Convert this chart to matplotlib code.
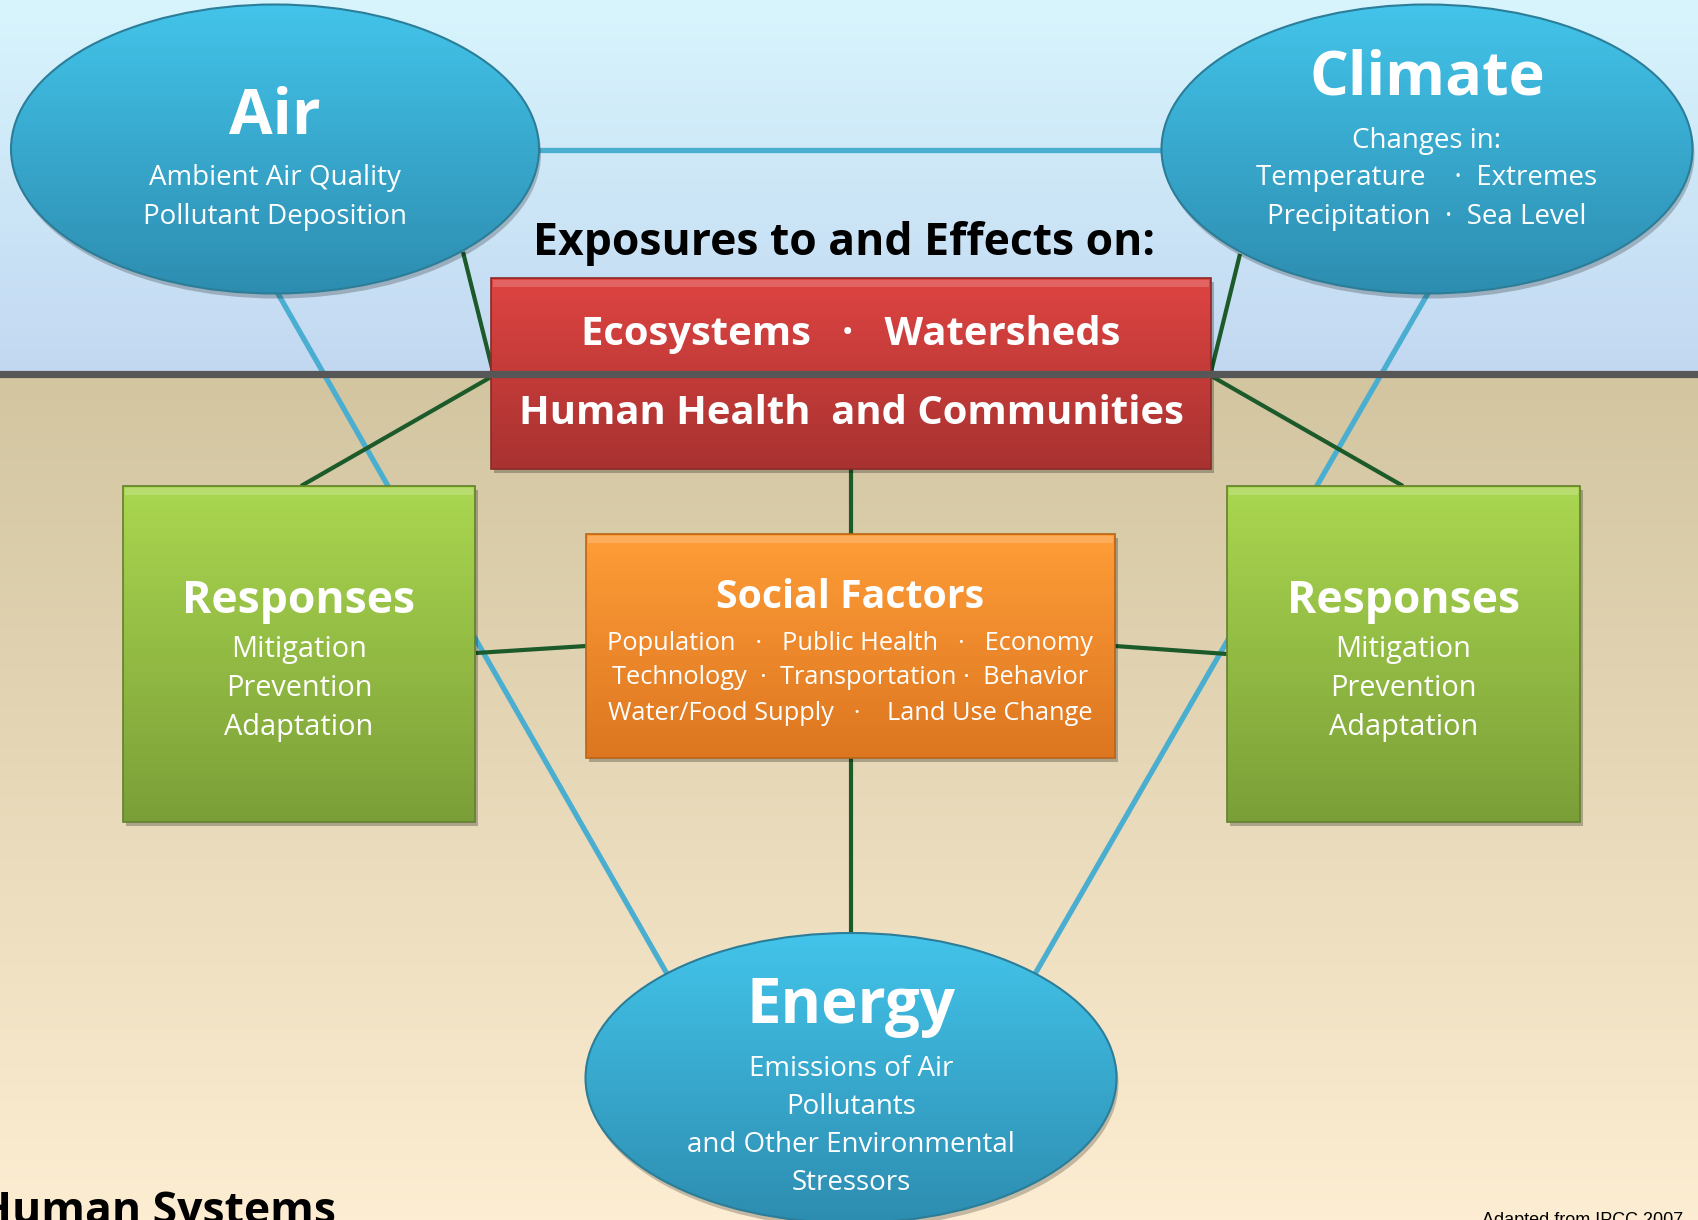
import matplotlib
matplotlib.use("Agg")
import matplotlib.pyplot as plt
import numpy as np
from matplotlib.patches import Ellipse, Rectangle
from matplotlib.colors import LinearSegmentedColormap

W, H = 1698, 1220
FONT = ["Open Sans", "DejaVu Sans"]

# ---------------- data ----------------
ellipse_names = ["Air", "Climate", "Energy"]
ellipse_centers = [(275, 149), (1427, 149), (851, 1078)]
ellipse_sizes = [(528, 289), (531, 289), (531, 290)]
ellipse_title_y = [117, 79, 1007]
ellipse_title_size = [45.5, 44, 44.5]
ellipse_sub_lines = [
    ["Ambient Air Quality", "Pollutant Deposition"],
    ["Changes in:", "Temperature    \u00b7  Extremes", "Precipitation  \u00b7  Sea Level"],
    ["Emissions of Air", "Pollutants", "and Other Environmental", "Stressors"],
]
ellipse_sub_y = [[178, 217], [141, 178, 217], [1069, 1107, 1145, 1183]]

red_box = (491, 278, 1211, 469)
red_lines = ["Ecosystems   \u00b7   Watersheds", "Human Health  and Communities"]
red_lines_y = [335, 413]

orange_box = (586, 534, 1115, 758)
orange_title = "Social Factors"
orange_title_y = 597
orange_lines = ["Population   \u00b7   Public Health   \u00b7   Economy",
                "Technology  \u00b7  Transportation \u00b7  Behavior",
                "Water/Food Supply   \u00b7    Land Use Change"]
orange_lines_y = [643, 678, 713]

green_boxes = [(123, 486, 475, 822), (1227, 486, 1580, 822)]
green_title = "Responses"
green_title_y = 602
green_lines = ["Mitigation", "Prevention", "Adaptation"]
green_lines_y = [650, 689, 727]

blue_links = [((275, 150), (1427, 150)),
              ((253, 250), (682, 1000)),
              ((1453, 250), (1020, 1000))]
green_links = [((463, 252), (493, 372)),
               ((491, 377), (301, 486)),
               ((1240, 254), (1211, 372)),
               ((1213, 377), (1403, 486)),
               ((851, 469), (851, 534)),
               ((851, 758), (851, 935)),
               ((476, 653), (586, 646)),
               ((1115, 646), (1227, 654))]

divider_y = 374
header_text = "Exposures to and Effects on:"
header_pos = (844, 244)
footer_text = "Human Systems"
credit_text = "Adapted from IPCC 2007"

# ---------------- drawing ----------------
fig = plt.figure(figsize=(W / 100, H / 100), dpi=100)
ax = fig.add_axes([0, 0, 1, 1])
ax.set_xlim(0, W)
ax.set_ylim(H, 0)
ax.axis("off")


def vgrad(x0, y0, x1, y1, c_top, c_bot, z, clip=None):
    cmap = LinearSegmentedColormap.from_list("g", [c_top, c_bot])
    g = np.linspace(0, 1, 256).reshape(-1, 1)
    im = ax.imshow(g, extent=(x0, x1, y1, y0), cmap=cmap, aspect="auto",
                   origin="upper", zorder=z, interpolation="bicubic")
    if clip is not None:
        im.set_clip_path(clip)
    return im


# background
vgrad(0, 0, W, divider_y, "#d8f5fd", "#c2d8f1", 0)
vgrad(0, divider_y, W, H, "#d2c5a0", "#fdedd2", 0)

# links
for (p, q) in blue_links:
    ax.plot([p[0], q[0]], [p[1], q[1]], color="#4aaed0", lw=3.8, zorder=2,
            solid_capstyle="butt")
for (p, q) in green_links:
    ax.plot([p[0], q[0]], [p[1], q[1]], color="#1c5a2a", lw=3.0, zorder=2,
            solid_capstyle="butt")


def box(rect, c_top, c_bot, edge, z):
    x0, y0, x1, y1 = rect
    sh = Rectangle((x0 + 3, y0 + 4), x1 - x0, y1 - y0, facecolor="#000000",
                   alpha=0.25, edgecolor="none", zorder=z - 0.2)
    ax.add_patch(sh)
    r = Rectangle((x0, y0), x1 - x0, y1 - y0, facecolor="none",
                  edgecolor=edge, lw=1.2, zorder=z + 0.1)
    ax.add_patch(r)
    clipr = Rectangle((x0, y0), x1 - x0, y1 - y0, transform=ax.transData,
                      facecolor="none", edgecolor="none")
    ax.add_patch(clipr)
    vgrad(x0, y0, x1, y1, c_top, c_bot, z, clip=clipr)
    hl = Rectangle((x0 + 2, y0 + 2), x1 - x0 - 4, 7, facecolor="white",
                   alpha=0.18, edgecolor="none", zorder=z + 0.05)
    ax.add_patch(hl)


def txt(x, y, s, size, bold=False, color="white", z=10, **kw):
    ax.text(x, y, s, fontsize=size, fontweight="bold" if bold else "normal",
            color=color, ha=kw.pop("ha", "center"), va=kw.pop("va", "center"),
            family=FONT, zorder=z, **kw)


# ellipses
for name, c, s, ty, ts, lines, ly in zip(ellipse_names, ellipse_centers, ellipse_sizes,
                                          ellipse_title_y, ellipse_title_size,
                                          ellipse_sub_lines, ellipse_sub_y):
    shadow = Ellipse((c[0] + 2, c[1] + 5), s[0], s[1], facecolor="#000000",
                     alpha=0.22, edgecolor="none", zorder=6)
    ax.add_patch(shadow)
    e = Ellipse(c, s[0], s[1], facecolor="none", edgecolor="none", zorder=7)
    ax.add_patch(e)
    vgrad(c[0] - s[0] / 2, c[1] - s[1] / 2, c[0] + s[0] / 2, c[1] + s[1] / 2,
          "#43c4ea", "#2d8db0", 7, clip=e)
    rim = Ellipse(c, s[0], s[1], facecolor="none", edgecolor="#2b7d98",
                  lw=1.5, zorder=7.5)
    ax.add_patch(rim)
    txt(c[0], ty, name, ts, bold=True)
    for line, yy in zip(lines, ly):
        txt(c[0], yy, line, 20)

# red box
box(red_box, "#de4442", "#a83230", "#8a2a28", 4)
rx = (red_box[0] + red_box[2]) / 2
for line, yy in zip(red_lines, red_lines_y):
    txt(rx, yy, line, 28.8, bold=True)

# divider line
ax.plot([0, W], [divider_y, divider_y], color="#575757", lw=5.2, zorder=5)

# header
txt(header_pos[0], header_pos[1], header_text, 32, bold=True, color="black")

# orange box
box(orange_box, "#ff9d38", "#dc7620", "#b86418", 4)
ox = (orange_box[0] + orange_box[2]) / 2
txt(ox, orange_title_y, orange_title, 28.3, bold=True)
for line, yy in zip(orange_lines, orange_lines_y):
    txt(ox, yy, line, 18.3)

# green boxes
for gb in green_boxes:
    box(gb, "#aad750", "#7b9f38", "#637f2c", 4)
    gx = (gb[0] + gb[2]) / 2
    txt(gx, green_title_y, green_title, 32, bold=True)
    for line, yy in zip(green_lines, green_lines_y):
        txt(gx, yy, line, 20.8)

# footer texts
txt(-22, 1224, footer_text, 32, bold=True, color="black", ha="left", va="baseline")
ax.text(1482, 1212, credit_text, fontsize=13, color="black", ha="left", va="top",
        family=["Liberation Sans", "DejaVu Sans"], zorder=10)

fig.savefig("out.png", dpi=100)
